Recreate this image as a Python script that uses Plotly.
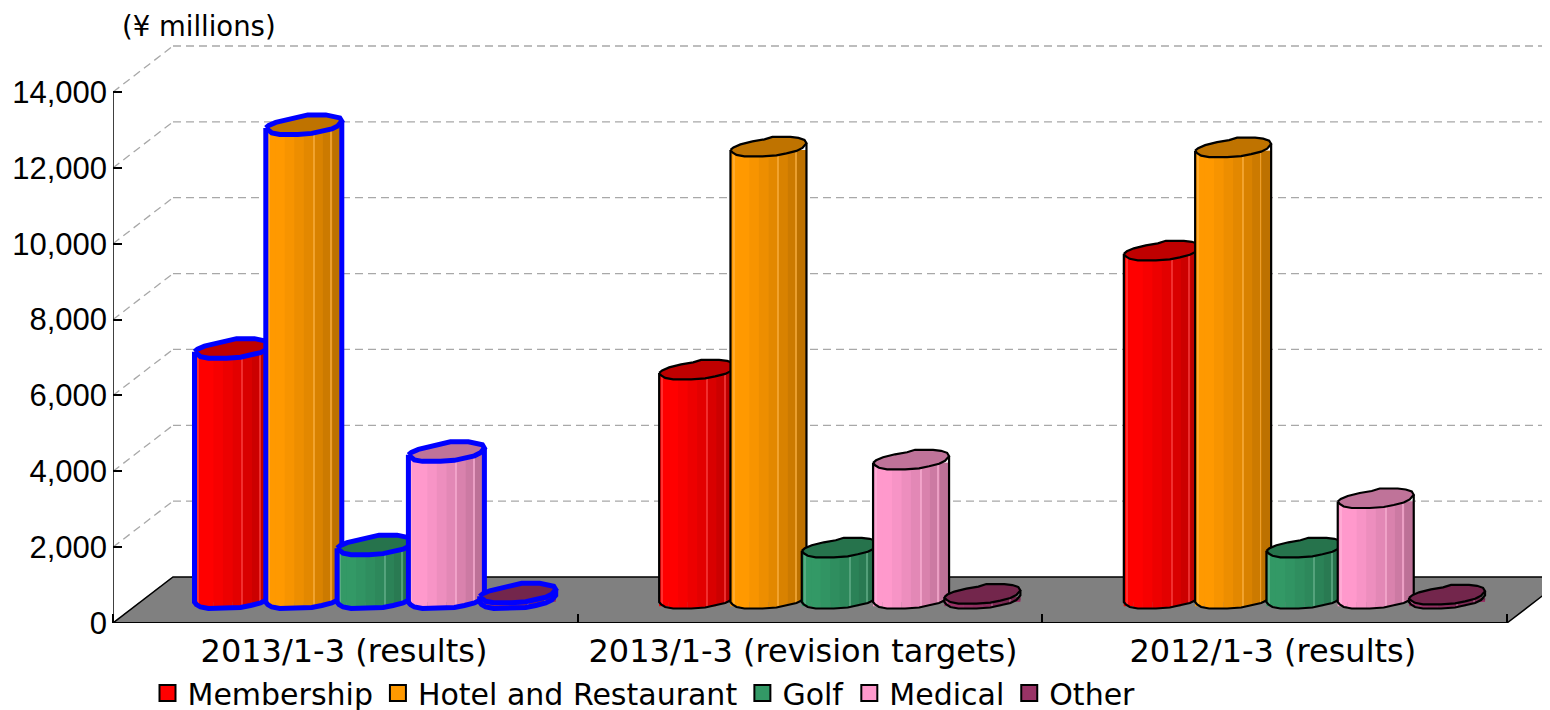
import plotly.graph_objects as go

# ---- data ----
groups = ["2013/1-3 (results)", "2013/1-3 (revision targets)", "2012/1-3 (results)"]
series = ["Membership", "Hotel and Restaurant", "Golf", "Medical", "Other"]
membership = [6600, 6040, 9180]
hotel = [12500, 11920, 11900]
golf = [1420, 1350, 1350]
medical = [3880, 3670, 2650]
other = [150, 130, 110]
values = [membership, hotel, golf, medical, other]
colors = ["#ff0000", "#ff9900", "#339966", "#ff99cc", "#993366"]
y_ticks = list(range(0, 14001, 2000))

# ---- geometry (pixels -> data units) ----
PX_X = 464.67           # pixels per group on the x axis
PX_Y = 531 / 14000      # pixels per value unit
X_MAX = 1445 / PX_X
Y_MAX = 615 / PX_Y
BACK_DX = 60 / PX_X
BACK_DY = 46 / PX_Y
BASE = 21 / PX_Y        # foot of the cylinders above axis zero
W = 76 / PX_X
PITCH = 71.3 / PX_X
START = 81.5 / PX_X
UPPER = [(0, 0), (3, 2.5), (10, 5.5), (22, 8.5), (34, 10.5), (42, 13), (60, 13), (68, 12), (74, 10), (76, 6.7)]
LOWER = [(76, 6.7), (72, 2), (66, -1), (56, -3.5), (46, -5.5), (32, -6.5), (14, -6.5), (6, -5), (2, -2.5), (0, 0)]
SHADES = [1, 1, .97, .93, .89, .85, .80, .74]
LIGHT_LINES = [.04, .63, .86]


def shade(hex_color, f):
    r, g, b = (int(hex_color[i:i + 2], 16) for i in (1, 3, 5))
    if f > 1:
        r, g, b = (c + (255 - c) * (f - 1) for c in (r, g, b))
    else:
        r, g, b = (c * f for c in (r, g, b))
    return f"rgb({r:.0f},{g:.0f},{b:.0f})"


def lower_at(px):
    pts = sorted(LOWER)
    for (a, p), (b, q) in zip(pts, pts[1:]):
        if a <= px <= b:
            return p + (q - p) * (px - a) / (b - a)
    return 0


def left_of(g, s):
    return g + START + s * PITCH


fig = go.Figure()

# floor
fig.add_trace(go.Scatter(
    x=[0, 3, 3 + BACK_DX, BACK_DX, 0], y=[0, 0, BACK_DY, BACK_DY, 0],
    fill="toself", fillcolor="#808080", mode="lines", line=dict(color="black", width=1.5),
    showlegend=False, hoverinfo="skip", zorder=0))

for s, name in enumerate(series):
    z = 10 * (s + 1)
    col = colors[s]
    vals = values[s]
    gx = range(len(groups))
    # the real bar of the series
    fig.add_trace(go.Bar(
        x=[left_of(g, s) + W / 2 for g in gx], y=vals, base=BASE, width=W,
        marker=dict(color=col, line=dict(width=0)), name=name, showlegend=False, zorder=z))
    # facets of the cylinder, following its rounded foot
    n = len(SHADES)
    for i, f in enumerate(SHADES):
        cpx = (i + .5) * 76 / n
        foot = BASE + lower_at(cpx) / PX_Y
        fig.add_trace(go.Bar(
            x=[left_of(g, s) + (i + .5) * W / n for g in gx],
            y=[v + BASE - foot for v in vals], base=foot, width=W / n * 1.02,
            marker=dict(color=shade(col, f), line=dict(width=0)),
            showlegend=False, hoverinfo="skip", zorder=z))
    for frac in LIGHT_LINES:
        foot = BASE + lower_at(frac * 76) / PX_Y
        fig.add_trace(go.Bar(
            x=[left_of(g, s) + frac * W for g in gx],
            y=[v + BASE - foot for v in vals], base=foot, width=1 / PX_X,
            marker=dict(color=shade(col, 1.3), line=dict(width=0), opacity=.6),
            showlegend=False, hoverinfo="skip", zorder=z))
    # outlines and caps: blue = selected first group
    for idx, lc, lw in (([0], "#0000ff", 5), ([1, 2], "black", 2.2)):
        ox, oy, cx, cy = [], [], [], []
        for g in idx:
            x0 = left_of(g, s)
            top = vals[g] + BASE
            ox += [x0, x0] + [x0 + p / PX_X for p, _ in LOWER[::-1]] + [x0 + W, None]
            oy += [top, BASE] + [BASE + q / PX_Y for _, q in LOWER[::-1]] + [top + 6.7 / PX_Y, None]
            cx += [x0 + p / PX_X for p, _ in UPPER + LOWER] + [None]
            cy += [top + q / PX_Y for _, q in UPPER + LOWER] + [None]
        fig.add_trace(go.Scatter(x=ox, y=oy, mode="lines", line=dict(color=lc, width=lw),
                                 showlegend=False, hoverinfo="skip", zorder=z))
        fig.add_trace(go.Scatter(x=cx, y=cy, mode="lines", fill="toself", fillcolor=shade(col, .75),
                                 line=dict(color=lc, width=lw), showlegend=False, hoverinfo="skip", zorder=z))
    # legend entry
    fig.add_trace(go.Scatter(x=[None], y=[None], mode="markers", name=name,
                             marker=dict(symbol="square", size=16, color=col, line=dict(color="black", width=2)),
                             hoverinfo="skip", zorder=z))

# walls
shapes = []
grid = dict(color="#a8a8a8", width=1.3, dash="8px,5px")
for t in y_ticks:
    shapes.append(dict(type="line", xref="x", yref="y", x0=0, x1=BACK_DX, y0=t, y1=t + BACK_DY, line=grid, layer="below"))
    if t:
        shapes.append(dict(type="line", xref="x", yref="y", x0=BACK_DX, x1=X_MAX, y0=t + BACK_DY, y1=t + BACK_DY, line=grid, layer="below"))
shapes.append(dict(type="line", xref="x", yref="y", x0=0, x1=0, y0=0, y1=y_ticks[-1], line=dict(color="black", width=1.5)))
shapes.append(dict(type="line", xref="x", yref="y", x0=0, x1=3, y0=0, y1=0, line=dict(color="black", width=2)))

FONT = "DejaVu Sans, Liberation Sans, sans-serif"
fig.update_layout(
    width=1550, height=710, margin=dict(l=105, r=0, t=0, b=95, autoexpand=False),
    paper_bgcolor="white", plot_bgcolor="white", barmode="overlay", shapes=shapes,
    font=dict(family=FONT, color="black", size=28),
    legend=dict(orientation="h", xref="container", yref="container", x=0.09, y=0.072, xanchor="left", yanchor="top",
                font=dict(size=30), traceorder="normal", bgcolor="rgba(0,0,0,0)"),
    xaxis=dict(range=[0, X_MAX], tickmode="array", tickvals=[.497, 1.485, 2.496], ticktext=groups,
               ticks="", showgrid=False, zeroline=False, showline=False,
               tickfont=dict(size=32), ticklabelstandoff=6,
               minor=dict(tickmode="array", tickvals=[0, 1, 2, 3], ticks="inside", ticklen=9, tickcolor="black", tickwidth=1.5, showgrid=False)),
    yaxis=dict(range=[0, Y_MAX], tickmode="array", tickvals=y_ticks, ticktext=[f"{t:,}" for t in y_ticks],
               ticks="inside", ticklen=9, tickwidth=1.5, tickcolor="black", showgrid=False, zeroline=False, showline=False,
               ticklabelstandoff=5,
               tickfont=dict(family="Liberation Sans, sans-serif", size=31)),
    annotations=[dict(text="(¥ millions)", xref="paper", yref="paper", x=0, y=1, xshift=7, yshift=0,
                      xanchor="left", yanchor="top", showarrow=False, font=dict(size=27.5))],
)
fig.write_html("out.html")
